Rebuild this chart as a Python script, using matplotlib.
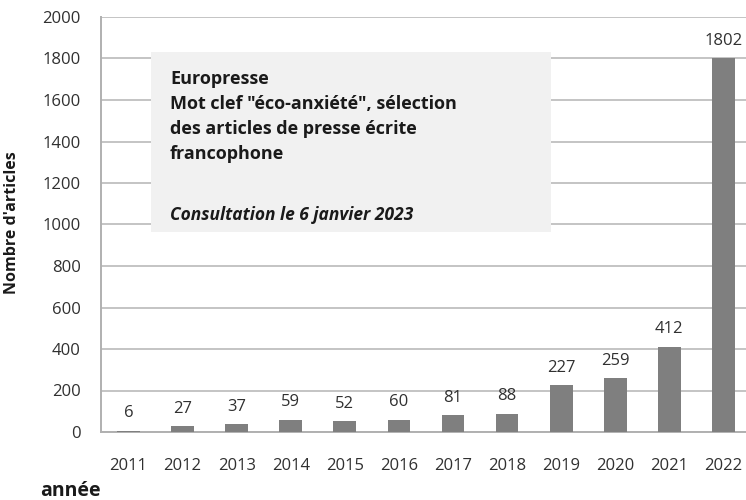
import matplotlib.pyplot as plt
from matplotlib.patches import Rectangle

# données
annees = ['2011', '2012', '2013', '2014', '2015', '2016',
          '2017', '2018', '2019', '2020', '2021', '2022']
nb_articles = [6, 27, 37, 59, 52, 60, 81, 88, 227, 259, 412, 1802]
y_ticks = [0, 200, 400, 600, 800, 1000, 1200, 1400, 1600, 1800, 2000]

plt.rcParams['font.family'] = ['Open Sans', 'DejaVu Sans']

fig = plt.figure(figsize=(7.46, 5), dpi=100)
ax = fig.add_axes([0.136, 0.136, 0.87, 0.83])

x = list(range(len(annees)))
bars = ax.bar(x, nb_articles, width=0.42, color='#7f7f7f', zorder=3)
for xi, v in zip(x, nb_articles):
    ax.text(xi, v + 45, str(v), ha='center', va='bottom',
            fontsize=12, color='#303030', zorder=4)

ax.set_xlim(-0.5, len(annees) - 0.5)
ax.set_ylim(0, 2000)
ax.set_yticks(y_ticks)
ax.set_xticks(x)
ax.set_xticklabels(annees)
ax.tick_params(axis='y', length=0, pad=15, labelsize=12, labelcolor='#303030')
ax.tick_params(axis='x', length=0, pad=19, labelsize=12, labelcolor='#303030')
ax.grid(axis='y', color='#c4c4c4', linewidth=1.4, zorder=0)
ax.set_axisbelow(True)
for s in ['top', 'right']:
    ax.spines[s].set_visible(False)
for s in ['left', 'bottom']:
    ax.spines[s].set_color('#b0b0b0')
    ax.spines[s].set_linewidth(1.4)

# encadré de légende
ax.add_patch(Rectangle((0.42, 964), 7.4, 867, facecolor='#f1f1f1',
                       edgecolor='none', zorder=2))
fig.text(170 / 746, 1 - 70 / 500,
         'Europresse\nMot clef "éco-anxiété", sélection\n'
         'des articles de presse écrite\nfrancophone',
         ha='left', va='top', fontsize=13, fontweight='bold',
         color='#1a1a1a', linespacing=1.5, zorder=5)
fig.text(170 / 746, 1 - 215 / 500, 'Consultation le 6 janvier 2023',
         ha='left', va='center', fontsize=12.5, fontweight='bold',
         fontstyle='italic', color='#1a1a1a', zorder=5)

fig.text(12 / 746, 1 - 223 / 500, "Nombre d'articles", rotation=90,
         ha='center', va='center', fontsize=11.5, fontweight='bold',
         color='#1a1a1a')
fig.text(40 / 746, 1 - 491 / 500, 'année', ha='left', va='center',
         fontsize=14, fontweight='bold', color='#1a1a1a')

fig.savefig('out.png', dpi=100)
